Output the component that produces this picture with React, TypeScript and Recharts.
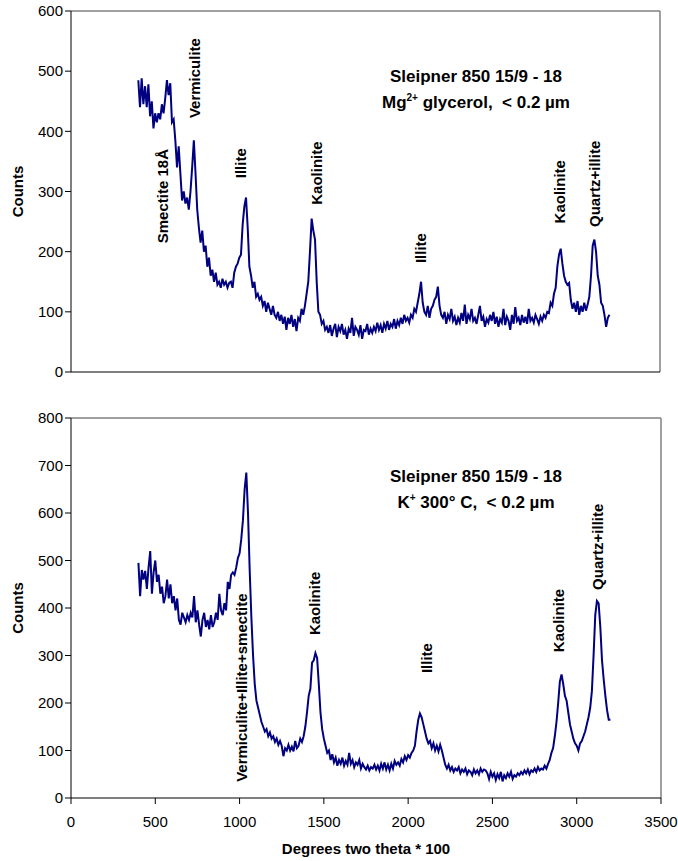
import React from "react";
import { LineChart, Line, XAxis, YAxis, ReferenceLine, ReferenceDot } from "recharts";

// scan grid: degrees two theta * 100
const DEG_START = 400;
const DEG_STEP = 10;
const X_TICKS = [0, 500, 1000, 1500, 2000, 2500, 3000, 3500];
const TOP_Y_TICKS = [0, 100, 200, 300, 400, 500, 600];
const BOTTOM_Y_TICKS = [0, 100, 200, 300, 400, 500, 600, 700, 800];

// Mg2+ glycerol counts, one value per 10 units from 400
const MG_COUNTS = [
  485, 440, 488, 445, 475, 440, 478, 425, 450, 405,
  430, 415, 430, 420, 445, 430, 455, 485, 460, 480,
  415, 420, 385, 340, 375, 330, 285, 300, 280, 290,
  270, 300, 340, 385, 330, 270, 240, 215, 235, 200,
  210, 175, 190, 160, 170, 150, 165, 145, 150, 140,
  155, 145, 150, 140, 148, 150, 140, 165, 175, 180,
  190, 195, 245, 275, 290, 240, 175, 160, 140, 150,
  125, 130, 120, 125, 110, 118, 100, 115, 105, 95,
  110, 95, 90, 100, 85, 95, 80, 92, 70, 90,
  80, 95, 75, 88, 68, 90, 85, 105, 95, 110,
  130, 150, 200, 255, 235, 220, 150, 100, 95, 80,
  85, 70, 75, 65, 78, 60, 72, 80, 58, 75,
  68, 80, 62, 70, 55, 72, 65, 90, 60, 75,
  70, 62, 78, 55, 70, 68, 80, 62, 72, 65,
  75, 68, 82, 70, 78, 65, 80, 72, 85, 70,
  80, 75, 88, 72, 85, 78, 90, 80, 95, 85,
  90, 82, 95, 90, 105, 100, 115, 130, 150, 115,
  100, 95, 110, 90, 105, 110, 120, 125, 142, 110,
  95, 90, 100, 80, 95, 88, 105, 85, 92, 78,
  90, 82, 98, 85, 112, 80, 95, 88, 105, 85,
  90, 80, 95, 110, 85, 92, 75, 88, 82, 95,
  85, 100, 80, 92, 75, 88, 82, 105, 78, 92,
  85, 70, 95, 80, 108, 85, 90, 78, 95, 82,
  92, 80, 105, 85, 90, 82, 95, 88, 80, 92,
  85, 95, 90, 100, 98, 115, 110, 130, 140, 175,
  195, 205, 180, 160, 150, 145, 148, 120, 105, 115,
  100, 118, 95, 110, 100, 115, 102, 112, 125, 160,
  210, 220, 200, 160, 145, 115, 110, 95, 75, 90,
  95,
];

// K+ 300 C counts, same grid
const K_COUNTS = [
  495, 425, 480, 460, 478, 440, 485, 520, 430, 475,
  500, 455, 470, 430, 445, 410, 425, 460, 420, 450,
  410, 425, 395, 420, 375, 365, 390, 380, 370, 385,
  375, 390, 380, 425, 370, 395, 365, 340, 375, 390,
  360, 375, 355, 385, 360, 370, 390, 375, 430, 395,
  385, 410, 395, 455, 440, 470, 475, 470, 485, 505,
  515, 545, 585, 650, 685, 600, 480, 380, 300, 240,
  205, 190, 175, 160, 150, 140, 145, 130, 138, 125,
  130, 118, 125, 112, 120, 110, 88, 105, 100, 112,
  100, 108, 98, 120, 105, 110, 125, 118, 130, 150,
  180, 215, 230, 285, 290, 305, 295, 240, 180, 145,
  125, 110, 95, 100, 80, 92, 75, 85, 68, 80,
  72, 85, 68, 78, 70, 95, 72, 80, 65, 75,
  70, 80, 62, 72, 65, 60, 68, 58, 65, 62,
  70, 60, 68, 58, 72, 62, 75, 60, 70, 58,
  72, 62, 78, 70, 75, 68, 82, 75, 88, 80,
  90, 85, 95, 100, 110, 140, 165, 178, 170, 155,
  140, 125, 115, 120, 105, 115, 100, 110, 98, 112,
  100, 85, 70, 62, 70, 58, 65, 55, 62, 58,
  65, 52, 60, 55, 62, 50, 58, 55, 48, 60,
  52, 58, 50, 62, 55, 60, 58, 52, 40, 55,
  45, 52, 38, 50, 42, 55, 35, 48, 42, 52,
  45, 55, 40, 48, 45, 52, 48, 55, 50, 58,
  52, 60, 50, 58, 55, 62, 55, 65, 58, 62,
  60, 68, 62, 72, 80, 95, 105, 130, 160, 200,
  245, 260, 240, 215, 205, 180, 155, 140, 125, 115,
  110, 100, 115, 120, 130, 140, 155, 170, 190, 225,
  300, 385, 415, 410, 360, 290, 250, 215, 185, 165,
  165,
];

// peak annotations: text, and where its bottom end sits (deg, counts)
const MG_PEAKS = [
  { text: "Smectite 18Å", deg: 546, count: 214 },
  { text: "Vermiculite", deg: 735, count: 422 },
  { text: "Illite", deg: 1007, count: 322 },
  { text: "Kaolinite", deg: 1458, count: 278 },
  { text: "Illite", deg: 2081, count: 181 },
  { text: "Kaolinite", deg: 2906, count: 247 },
  { text: "Quartz+illite", deg: 3113, count: 241 },
];

const K_PEAKS = [
  { text: "Vermiculite+Illite+smectite", deg: 1012, count: 34 },
  { text: "Kaolinite", deg: 1447, count: 343 },
  { text: "Illite", deg: 2111, count: 263 },
  { text: "Kaolinite", deg: 2894, count: 307 },
  { text: "Quartz+illite", deg: 3125, count: 438 },
];

const FONT = "Arial, 'Liberation Sans', sans-serif";
const LINE = "#000080";
const BORDER = "#808080";
const tickStyle = { fontSize: 15, fill: "#000", fontFamily: FONT };

const toRows = (counts: number[]) =>
  counts.map((c, i) => ({ deg: DEG_START + i * DEG_STEP, c }));

function PeakText(text: string) {
  return (props: any) => {
    const { cx, cy } = props;
    return (
      <text
        x={cx}
        y={cy}
        dy="0.35em"
        transform={`rotate(-90 ${cx} ${cy})`}
        textAnchor="start"
        fontSize={15}
        fontWeight="bold"
        fontFamily={FONT}
        fill="#000"
      >
        {text}
      </text>
    );
  };
}

function CountsLabel(props: any) {
  const vb = props.viewBox;
  const x = 17;
  const y = vb.y + vb.height / 2;
  return (
    <text
      x={x}
      y={y}
      transform={`rotate(-90 ${x} ${y})`}
      textAnchor="middle"
      dominantBaseline="central"
      fontSize={15}
      fontWeight="bold"
      fontFamily={FONT}
      fill="#000"
    >
      Counts
    </text>
  );
}

function DegreesLabel(props: any) {
  const vb = props.viewBox;
  return (
    <text
      x={vb.x + vb.width / 2}
      y={vb.y + 50}
      textAnchor="middle"
      dominantBaseline="central"
      fontSize={15}
      fontWeight="bold"
      fontFamily={FONT}
      fill="#000"
    >
      Degrees two theta * 100
    </text>
  );
}

const titleStyle: React.CSSProperties = {
  position: "absolute",
  width: 260,
  textAlign: "center",
  fontFamily: FONT,
  fontWeight: "bold",
  fontSize: 17,
  lineHeight: "26px",
  color: "#000",
};
const supStyle: React.CSSProperties = { fontSize: 10, verticalAlign: "7px", lineHeight: 0 };

export default function App() {
  const mgRows = toRows(MG_COUNTS);
  const kRows = toRows(K_COUNTS);

  return (
    <div style={{ position: "absolute", left: 0, top: 0, width: 678, height: 861, background: "#fff" }}>
      <div style={{ position: "absolute", left: 0, top: 0 }}>
        <LineChart width={678} height={390} data={mgRows} margin={{ top: 11, right: 18, left: 0, bottom: 16 }}>
          <XAxis
            type="number"
            dataKey="deg"
            domain={[0, 3500]}
            ticks={X_TICKS}
            tick={false}
            tickLine={false}
            height={2}
            axisLine={{ stroke: "#000" }}
          />
          <YAxis
            domain={[0, 600]}
            ticks={TOP_Y_TICKS}
            width={71}
            tick={tickStyle}
            tickLine={{ stroke: "#000" }}
            axisLine={{ stroke: "#000" }}
            label={{ content: CountsLabel }}
          />
          <ReferenceLine y={600} stroke={BORDER} strokeWidth={1.5} />
          <ReferenceLine x={3500} stroke={BORDER} strokeWidth={1.5} />
          <Line
            type="linear"
            dataKey="c"
            stroke={LINE}
            strokeWidth={2}
            dot={false}
            isAnimationActive={false}
          />
          {MG_PEAKS.map((p, i) => (
            <ReferenceDot key={i} x={p.deg} y={p.count} r={1} shape={PeakText(p.text)} />
          ))}
        </LineChart>
      </div>
      <div style={{ ...titleStyle, left: 346, top: 64 }}>
        Sleipner 850 15/9 - 18
        <br />
        Mg<sup style={supStyle}>2+</sup> glycerol,&nbsp; &lt; 0.2 µm
      </div>

      <div style={{ position: "absolute", left: 0, top: 390 }}>
        <LineChart width={678} height={471} data={kRows} margin={{ top: 28, right: 17, left: 0, bottom: 7 }}>
          <XAxis
            type="number"
            dataKey="deg"
            domain={[0, 3500]}
            ticks={X_TICKS}
            tick={tickStyle}
            tickMargin={12}
            tickLine={{ stroke: "#000" }}
            axisLine={{ stroke: "#000" }}
            height={56}
            label={{ content: DegreesLabel }}
          />
          <YAxis
            domain={[0, 800]}
            ticks={BOTTOM_Y_TICKS}
            width={71}
            tick={tickStyle}
            tickLine={{ stroke: "#000" }}
            axisLine={{ stroke: "#000" }}
            label={{ content: CountsLabel }}
          />
          <ReferenceLine y={800} stroke={BORDER} strokeWidth={1.5} />
          <ReferenceLine x={3500} stroke={BORDER} strokeWidth={1.5} />
          <Line
            type="linear"
            dataKey="c"
            stroke={LINE}
            strokeWidth={2}
            dot={false}
            isAnimationActive={false}
          />
          {K_PEAKS.map((p, i) => (
            <ReferenceDot key={i} x={p.deg} y={p.count} r={1} shape={PeakText(p.text)} />
          ))}
        </LineChart>
      </div>
      <div style={{ ...titleStyle, left: 346, top: 464 }}>
        Sleipner 850 15/9 - 18
        <br />
        K<sup style={supStyle}>+</sup> 300° C,&nbsp; &lt; 0.2 µm
      </div>
    </div>
  );
}
